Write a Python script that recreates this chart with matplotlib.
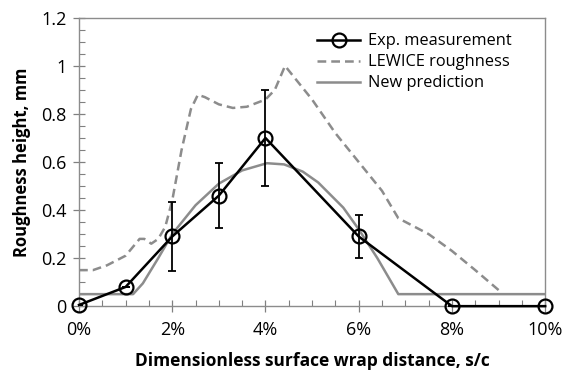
import matplotlib
matplotlib.use("Agg")
import matplotlib.pyplot as plt
from matplotlib.ticker import MultipleLocator

plt.rcParams['font.family'] = ['Open Sans', 'DejaVu Sans']

# Experimental measurement
exp_x = [0, 1, 2, 3, 4, 6, 8, 10]
exp_y = [0.005, 0.08, 0.29, 0.46, 0.70, 0.29, 0.0, 0.0]
exp_err = [0.0, 0.0, 0.145, 0.135, 0.20, 0.09, 0.0, 0.0]

# LEWICE roughness
lew_x = [0, 0.3, 0.6, 1.0, 1.3, 1.4, 1.55, 1.7, 1.85, 2.0, 2.2, 2.4, 2.55, 2.7,
         3.0, 3.3, 3.6, 4.0, 4.2, 4.42, 5.0, 5.5, 6.0, 6.5, 6.85, 7.5, 8.0, 8.5, 9.08]
lew_y = [0.15, 0.15, 0.17, 0.21, 0.28, 0.28, 0.26, 0.28, 0.33, 0.44, 0.65, 0.82, 0.88, 0.87,
         0.84, 0.825, 0.83, 0.86, 0.90, 1.0, 0.86, 0.72, 0.60, 0.48, 0.366, 0.30, 0.23, 0.15, 0.054]

# New prediction
new_x = [0, 1.16, 1.37, 1.7, 2.0, 2.5, 3.0, 3.5, 4.03, 4.4, 4.8, 5.13, 5.67, 6.0, 6.4, 6.85, 10]
new_y = [0.05, 0.05, 0.095, 0.2, 0.3, 0.42, 0.51, 0.565, 0.595, 0.59, 0.56, 0.515, 0.41, 0.32, 0.2, 0.05, 0.05]

x_ticks = [0, 2, 4, 6, 8, 10]
x_labels = ['0%', '2%', '4%', '6%', '8%', '10%']
y_ticks = [0, 0.2, 0.4, 0.6, 0.8, 1.0, 1.2]
y_labels = ['0', '0.2', '0.4', '0.6', '0.8', '1', '1.2']

fig = plt.figure(figsize=(5.62, 3.72), dpi=100)
ax = fig.add_axes([0.1406, 0.177, 0.8294, 0.775])

ax.plot(exp_x, exp_y, color='black', lw=1.8, marker='o', ms=10, mfc='none',
        mec='black', mew=1.6, label='Exp. measurement', zorder=5, clip_on=False)
ax.errorbar(exp_x, exp_y, yerr=exp_err, fmt='none', ecolor='black', elinewidth=1.3,
            capsize=3, capthick=1.3, zorder=4)
ax.plot(lew_x, lew_y, color='#8c8c8c', lw=1.8, ls=(0, (3.5, 2)), label='LEWICE roughness', zorder=3)
ax.plot(new_x, new_y, color='#8c8c8c', lw=1.8, label='New prediction', zorder=3)

ax.set_xlim(0, 10)
ax.set_ylim(0, 1.2)
ax.set_xticks(x_ticks)
ax.set_xticklabels(x_labels)
ax.set_yticks(y_ticks)
ax.set_yticklabels(y_labels)
ax.xaxis.set_minor_locator(MultipleLocator(0.5))
ax.yaxis.set_minor_locator(MultipleLocator(0.05))
ax.tick_params(axis='both', which='major', direction='inout', length=8, width=0.9,
               color='#808080', labelsize=13, pad=5)
ax.tick_params(axis='x', which='major', pad=7)
ax.tick_params(axis='both', which='minor', direction='in', length=4, width=0.8, color='#808080')
for s in ax.spines.values():
    s.set_color('#8c8c8c')
    s.set_linewidth(1.0)

ax.set_xlabel('Dimensionless surface wrap distance, s/c', fontsize=12.5, fontweight='bold', labelpad=9)
ax.set_ylabel('Roughness height, mm', fontsize=12, fontweight='bold', labelpad=7)

ax.legend(loc='upper right', bbox_to_anchor=(0.95, 0.98), frameon=False, fontsize=11.8,
          handlelength=2.6, handletextpad=0.5, labelspacing=0.3, borderaxespad=0.2)

fig.savefig('out.png', dpi=100)
